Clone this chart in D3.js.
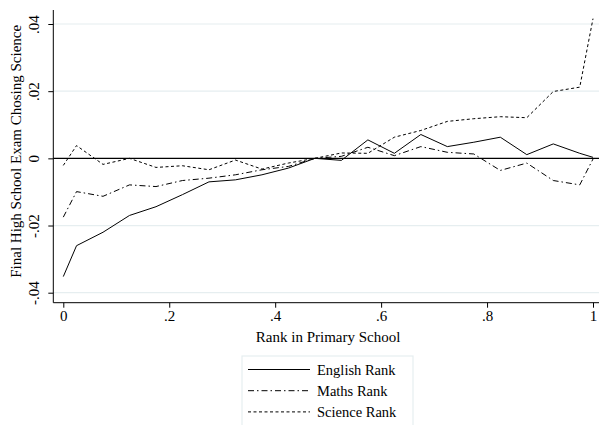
<!DOCTYPE html>
<html><head><meta charset="utf-8">
<script src="https://cdn.jsdelivr.net/npm/d3@7"></script>
<style>body{margin:0;background:#fff}svg{display:block}</style>
</head><body><svg id="c" width="599" height="425"></svg>
<script>
const xs = [0,0.025,0.075,0.125,0.175,0.225,0.275,0.325,0.375,0.425,0.475,0.525,0.575,0.625,0.675,0.725,0.775,0.825,0.875,0.925,0.975,1];
const english = [-0.0352,-0.026,-0.022,-0.017,-0.0144,-0.0108,-0.007,-0.0064,-0.0049,-0.0029,0,-0.0006,0.0055,0.0015,0.0071,0.0035,0.0048,0.0063,0.0011,0.0043,0.0015,0.0003];
const maths = [-0.0175,-0.0099,-0.0113,-0.0079,-0.0084,-0.0066,-0.0059,-0.0049,-0.0034,-0.0024,0,0.0006,0.0033,0.0008,0.0035,0.0018,0.0013,-0.0036,-0.0014,-0.0066,-0.0079,-0.0002];
const science = [-0.0021,0.0038,-0.0018,0,-0.0027,-0.0022,-0.0034,-0.0005,-0.0032,-0.0014,0,0.0016,0.0015,0.0063,0.0083,0.011,0.0118,0.0124,0.0121,0.0199,0.0212,0.0416];
const xTicks = [0,0.2,0.4,0.6,0.8,1];
const yTicks = [-0.04,-0.02,0,0.02,0.04];
const seriesNames = ["English Rank","Maths Rank","Science Rank"];
const dashes = [null,"6,3,1.5,3","3,2.5"];

const FONT = "'Liberation Serif', 'Times New Roman', serif";
const svg = d3.select("#c").attr("font-family",FONT);
const x = d3.scaleLinear().domain([0,1]).range([63.3,593]);
const y = d3.scaleLinear().domain([-0.04,0.04]).range([292.7,24]);
const pLeft = 53.3, pRight = 599, pTop = 10, pBottom = 302.7;
const fmt = v => {
  if (v === 0) return "0";
  if (v === 1) return "1";
  const s = Math.abs(v).toFixed(2).replace(/0+$/,"").replace(/^0\./,".");
  return (v < 0 ? "-" : "") + s;
};

// gridlines
svg.append("g").selectAll("line").data(yTicks.filter(v=>v!==0)).join("line")
  .attr("x1",pLeft).attr("x2",pRight).attr("y1",d=>y(d)).attr("y2",d=>y(d))
  .attr("stroke","#e6eef0").attr("stroke-width",1.2);
// zero line
svg.append("line").attr("x1",pLeft).attr("x2",pRight).attr("y1",y(0)).attr("y2",y(0))
  .attr("stroke","#000").attr("stroke-width",1.2);

// axes
const xa = svg.append("g").attr("transform",`translate(0,${pBottom})`)
  .call(d3.axisBottom(x).tickValues(xTicks).tickFormat(fmt).tickSize(5).tickPadding(3));
xa.attr("font-family",FONT);
xa.select(".domain").remove();
xa.append("line").attr("x1",pLeft).attr("x2",pRight).attr("stroke","#000");
xa.selectAll(".tick text").attr("font-size",15).attr("fill","#000").attr("font-family",FONT);

const ya = svg.append("g").attr("transform",`translate(${pLeft},0)`)
  .call(d3.axisLeft(y).tickValues(yTicks).tickFormat(fmt).tickSize(5).tickPadding(0));
ya.attr("font-family",FONT);
ya.select(".domain").remove();
ya.append("line").attr("y1",pTop).attr("y2",pBottom).attr("stroke","#000");
ya.selectAll(".tick text").attr("font-size",15).attr("fill","#000").attr("font-family",FONT)
  .attr("text-anchor","middle").attr("dy",0)
  .attr("x",0).attr("y",0)
  .attr("transform","translate(-14.5,0) rotate(-90)");

// titles
svg.append("text").attr("x",(63.3+593)/2).attr("y",342).attr("text-anchor","middle")
  .attr("font-family",FONT).attr("font-size",15).text("Rank in Primary School");
svg.append("text").attr("transform",`translate(21,${(pTop+pBottom)/2-5}) rotate(-90)`)
  .attr("font-family",FONT).attr("text-anchor","middle").attr("font-size",15).text("Final High School Exam Chosing Science");

// lines
const line = d3.line().x((d,i)=>x(xs[i])).y(d=>y(d));
[english,maths,science].forEach((s,k)=>{
  svg.append("path").datum(s).attr("d",line).attr("fill","none").attr("stroke","#000")
    .attr("stroke-width",1).attr("stroke-dasharray",dashes[k]);
});

// legend
const lg = svg.append("g");
lg.append("rect").attr("x",242).attr("y",356).attr("width",171).attr("height",80)
  .attr("fill","#fff").attr("stroke","#e6eef0").attr("stroke-width",1.2);
seriesNames.forEach((n,k)=>{
  const yy = 369.5 + k*21.2;
  lg.append("line").attr("x1",248).attr("x2",310).attr("y1",yy).attr("y2",yy)
    .attr("stroke","#000").attr("stroke-width",1).attr("stroke-dasharray",dashes[k]);
  lg.append("text").attr("x",317).attr("y",yy+5).attr("font-family",FONT).attr("font-size",14.5).text(n);
});
</script></body></html>
